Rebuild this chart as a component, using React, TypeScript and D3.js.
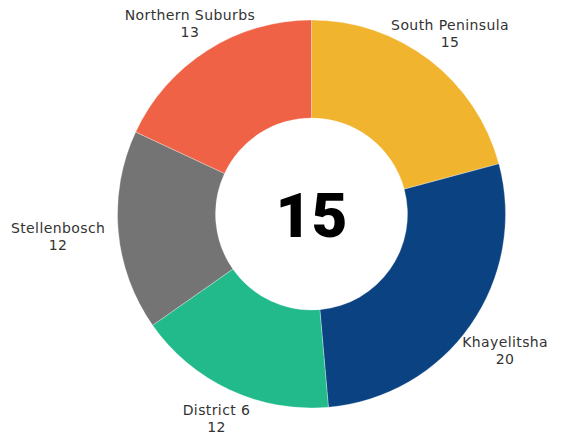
import React from "react";
import * as d3 from "d3";

const categories = ["South Peninsula", "Khayelitsha", "District 6", "Stellenbosch", "Northern Suburbs"];
const values = [15, 20, 12, 12, 13];
const colors = ["#F0B42E", "#0B4282", "#22BA8B", "#747474", "#F06245"];
const centerLabel = "15";

const W = 572;
const H = 439;
const cx = 311.5;
const cy = 214;
const R = 194;
const r0 = 96;

export default function App() {
  const pie = d3.pie<number>().sort(null).value((d) => d)(values);
  const arc = d3.arc<d3.PieArcDatum<number>>().innerRadius(r0).outerRadius(R);
  const fontSize = 14;
  const charW = 8.2;
  const boxH = 36;
  const anchorR = R + 11;

  return (
    <svg width={W} height={H} style={{ position: "absolute", left: 0, top: 0, background: "#fff" }}>
      <g transform={`translate(${cx},${cy})`}>
        {pie.map((p, i) => (
          <path key={i} d={arc(p) || ""} fill={colors[i]} stroke="rgba(255,255,255,0.5)" strokeWidth={0.6} />
        ))}
        {pie.map((p, i) => {
          const a = (p.startAngle + p.endAngle) / 2;
          const dx = Math.sin(a);
          const dy = -Math.cos(a);
          const w = Math.max(categories[i].length, String(values[i]).length) * charW;
          const d = Math.min(
            Math.abs(dx) > 1e-6 ? w / 2 / Math.abs(dx) : Infinity,
            Math.abs(dy) > 1e-6 ? boxH / 2 / Math.abs(dy) : Infinity
          );
          const x = dx * (anchorR + d);
          const y = dy * (anchorR + d);
          return (
            <g key={"l" + i} fontFamily="'DejaVu Sans', sans-serif" fontSize={fontSize} fill="#333" textAnchor="middle" letterSpacing={0.4}>
              <text x={x} y={y - 3}>{categories[i]}</text>
              <text x={x} y={y + 14}>{values[i]}</text>
            </g>
          );
        })}
        <text
          x={0}
          y={23}
          textAnchor="middle"
          fontFamily="Roboto, 'DejaVu Sans', sans-serif"
          fontWeight={900}
          fontSize={62}
          fill="#000"
        >
          {centerLabel}
        </text>
      </g>
    </svg>
  );
}
